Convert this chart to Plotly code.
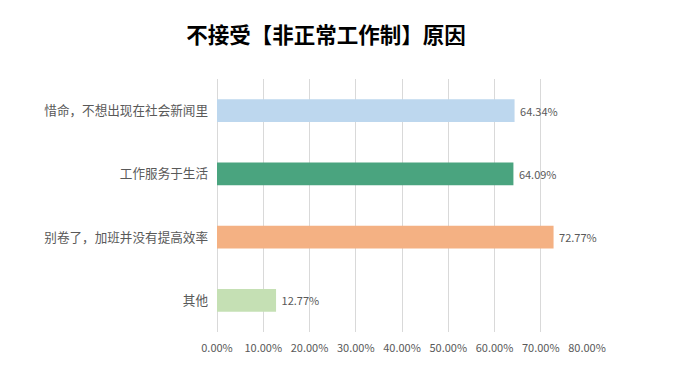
import plotly.graph_objects as go

categories = ["惜命，不想出现在社会新闻里", "工作服务于生活", "别卷了，加班并没有提高效率", "其他"]
values = [0.6434, 0.6409, 0.7277, 0.1277]
labels = ["64.34%", "64.09%", "72.77%", "12.77%"]
colors = ["#BDD7EE", "#4AA47F", "#F4B183", "#C5E0B4"]
tick_vals = [0, 0.1, 0.2, 0.3, 0.4, 0.5, 0.6, 0.7, 0.8]
tick_text = ["0.00%", "10.00%", "20.00%", "30.00%", "40.00%", "50.00%", "60.00%", "70.00%", "80.00%"]

font_family = "Noto Sans CJK SC, Noto Sans, sans-serif"
# page body adds an 8px offset; margins compensate for it
W, H, OFF = 692, 375, 8

fig = go.Figure(go.Bar(
    x=values, y=categories, orientation="h",
    marker=dict(color=colors, line=dict(width=0)),
    text=[" " + t for t in labels], textposition="outside",
    textfont=dict(color="#595959", size=11, family=font_family),
    width=0.36, cliponaxis=False,
))

fig.update_layout(
    width=W, height=H,
    margin=dict(l=217 - OFF, r=W - 587 + OFF, t=79 - OFF, b=H - 332 + OFF, autoexpand=False),
    paper_bgcolor="white", plot_bgcolor="white",
    title=dict(text="<b>不接受【非正常工作制】原因</b>", x=(326 - OFF) / W, xref="container", xanchor="center",
               y=1 - (35 - OFF) / H, yref="container", yanchor="middle",
               font=dict(size=21.5, color="#000000", family=font_family)),
    xaxis=dict(range=[0, 0.8], tickvals=tick_vals, ticktext=tick_text, automargin=False,
               showgrid=True, gridcolor="#D9D9D9", gridwidth=1,
               zeroline=True, zerolinecolor="#D9D9D9", zerolinewidth=1,
               showline=False, ticks="", ticklabelstandoff=8,
               tickfont=dict(size=11, color="#595959", family=font_family)),
    yaxis=dict(autorange="reversed", showgrid=False, showline=False, ticks="", automargin=False,
               ticklabelstandoff=8,
               tickfont=dict(size=12.6, color="#595959", family=font_family)),
    showlegend=False,
)

fig.write_html("out.html")
